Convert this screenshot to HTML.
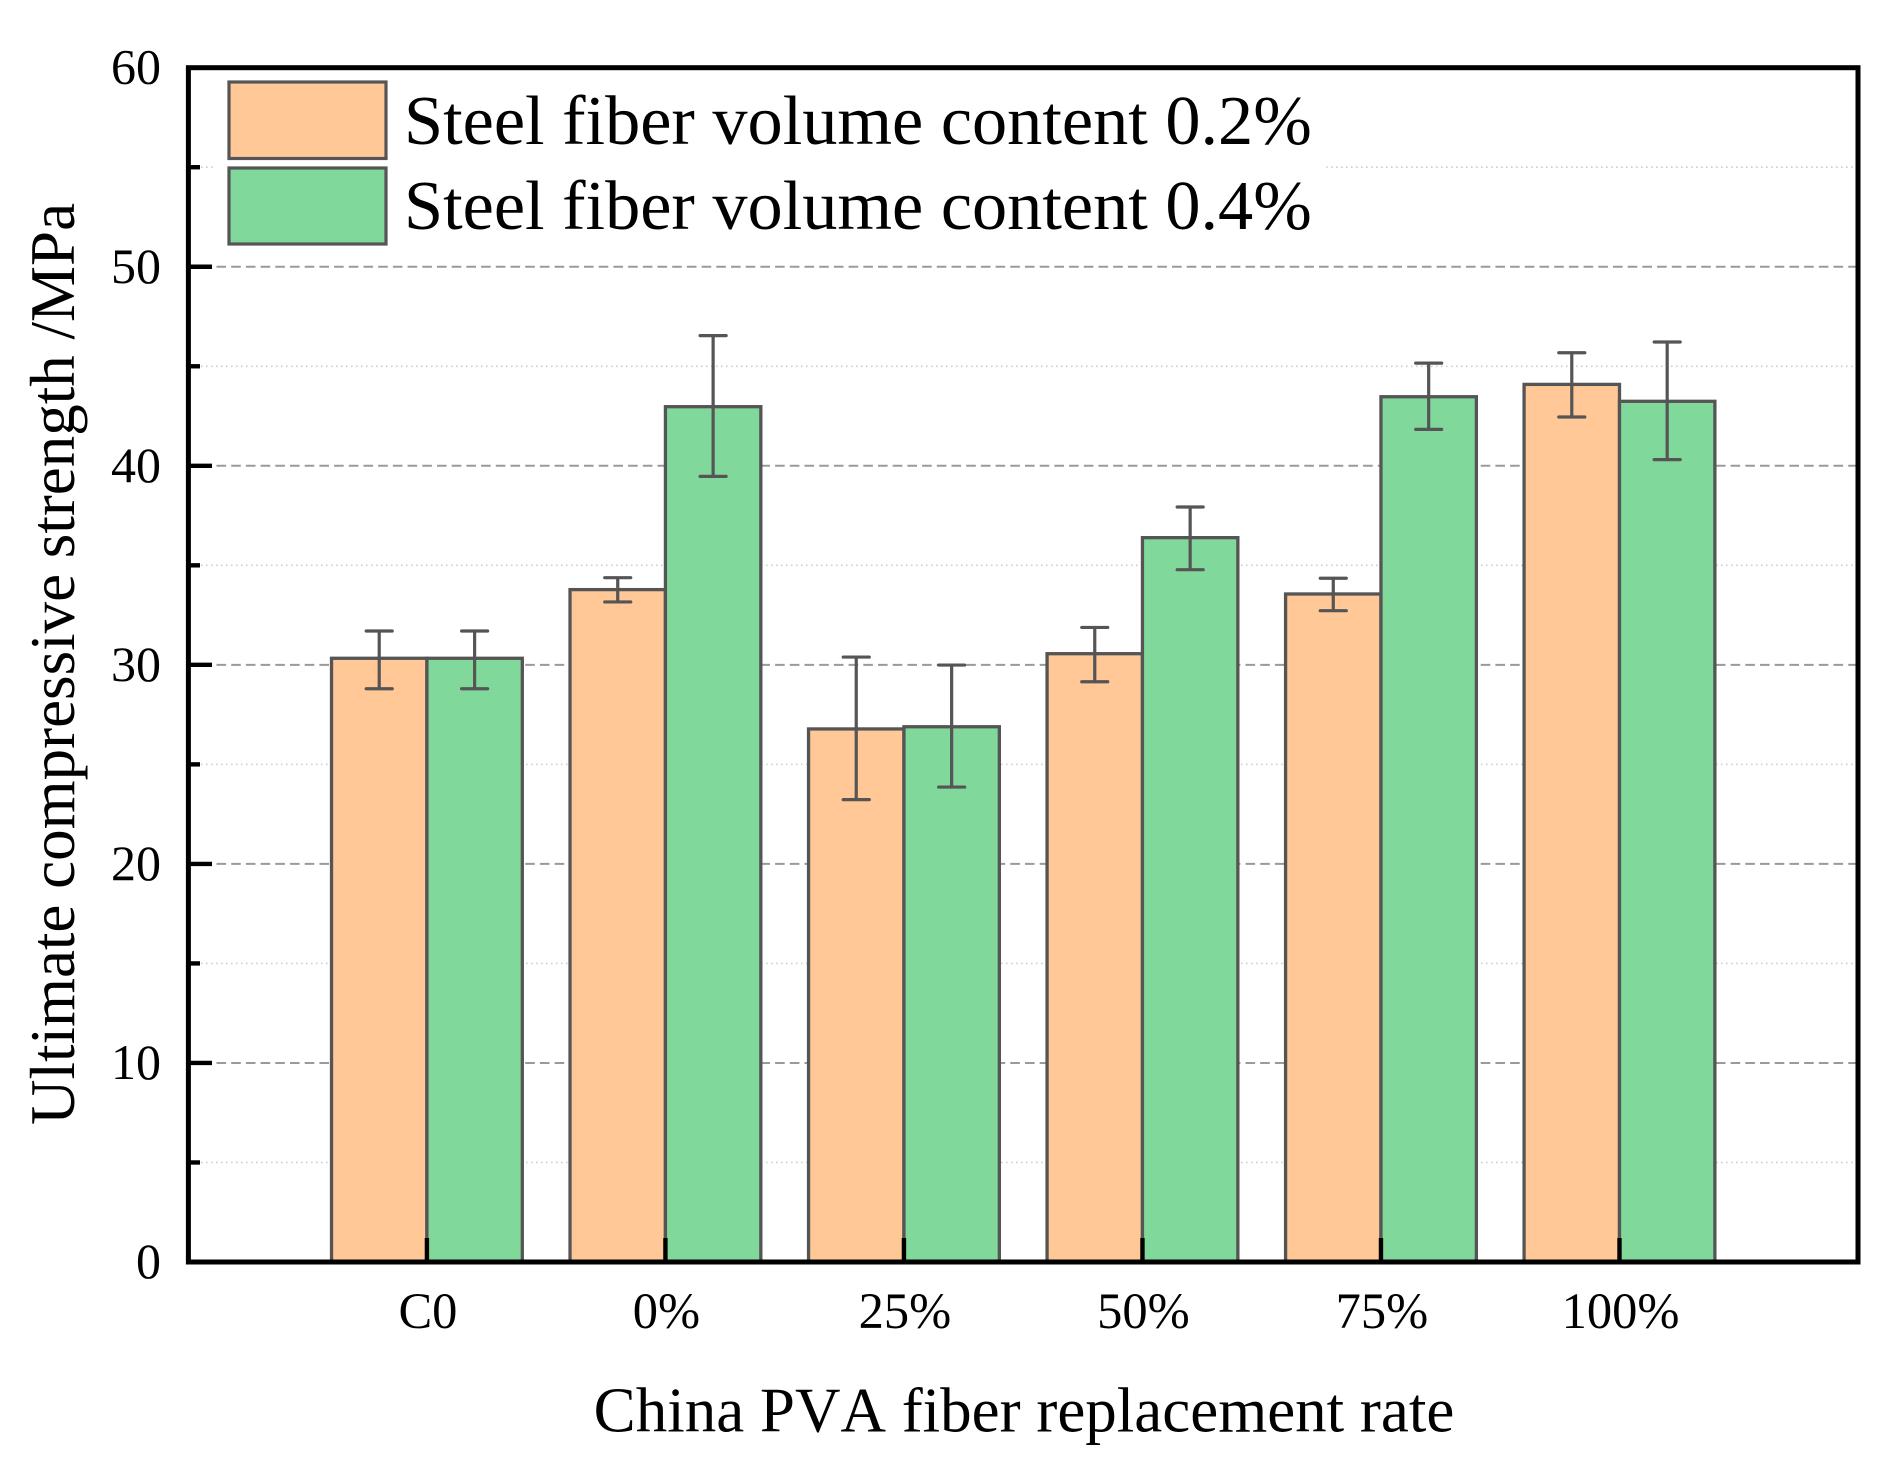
<!DOCTYPE html>
<html lang="en">
<head>
<meta charset="utf-8">
<title>Ultimate compressive strength chart</title>
<style>
html,body{margin:0;padding:0;background:#fff;}
svg{display:block;}
text{font-family:"Liberation Serif",serif;fill:#000;font-kerning:none;font-variant-ligatures:none;}
</style>
</head>
<body>
<svg id="chart" xmlns="http://www.w3.org/2000/svg" width="1888" height="1459" viewBox="0 0 1888 1459">
  <rect x="0" y="0" width="1888" height="1459" fill="#ffffff"/>
  <g id="grid"></g>
  <g id="bars"></g>
  <g id="errors"></g>
  <g id="ticks"></g>
  <rect x="188.4" y="67.7" width="1669.6" height="1194.3" fill="none" stroke="#000" stroke-width="5"/>
  <g id="labels"></g>
  <g>
    <rect x="214" y="72" width="1112" height="180" fill="#ffffff"/>
    <rect x="229" y="82" width="157" height="76.5" fill="#FFC896" stroke="#555" stroke-width="3.2"/>
    <text x="404" y="144" font-size="70.3">Steel fiber volume content 0.2%</text>
    <rect x="229" y="168" width="157" height="76" fill="#80D99B" stroke="#555" stroke-width="3.2"/>
    <text x="404" y="229" font-size="70.3">Steel fiber volume content 0.4%</text>
  </g>
  <text x="1024" y="1431.5" font-size="63" text-anchor="middle">China PVA fiber replacement rate</text>
  <text transform="translate(74,664) rotate(-90)" font-size="63" text-anchor="middle">Ultimate compressive strength /MPa</text>
</svg>
<script>
const categories = ['C0', '0%', '25%', '50%', '75%', '100%'];
const steel02Values = [30.33, 33.78, 26.78, 30.56, 33.56, 44.09];
const steel02ErrHigh = [31.7, 34.38, 30.39, 31.88, 34.35, 45.68];
const steel02ErrLow = [28.8, 33.16, 23.23, 29.15, 32.72, 42.45];
const steel04Values = [30.33, 42.97, 26.89, 36.39, 43.47, 43.24];
const steel04ErrHigh = [31.7, 46.54, 29.99, 37.93, 45.16, 46.22];
const steel04ErrLow = [28.8, 39.47, 23.86, 34.78, 41.83, 40.31];
const yTickLabels = [0, 10, 20, 30, 40, 50, 60];
const yMinorTicks = [5, 15, 25, 35, 45, 55];

const NS = 'http://www.w3.org/2000/svg';
const plot = { left: 188.4, right: 1858, top: 67.7, bottom: 1262 };
const yMax = 60;
const xUnits = categories.length + 1;
const barWidth = 95.4;

function xScale(i) {
  return plot.left + (plot.right - plot.left) * (i + 1) / xUnits;
}
function yScale(v) {
  return plot.bottom - (plot.bottom - plot.top) * v / yMax;
}
function make(tag, parentId, props) {
  const el = document.createElementNS(NS, tag);
  for (const k in props) el.setAttribute(k, props[k]);
  document.getElementById(parentId).appendChild(el);
  return el;
}

yTickLabels.forEach(function (v) {
  if (v === 0 || v === yMax) return;
  const g = make('line', 'grid', { x1: 216.5, x2: 1856, y1: yScale(v), y2: yScale(v), stroke: '#9a9a9a', 'stroke-width': 2, 'stroke-dasharray': '9.6 5.1' });
  
  
});
yMinorTicks.forEach(function (v) {
  const g = make('line', 'grid', { x1: 201, x2: 1856, y1: yScale(v), y2: yScale(v), stroke: '#cfcfcf', 'stroke-width': 1.6, 'stroke-dasharray': '1.6 3.4' });
  
  
  const t = make('line', 'ticks', { x1: plot.left, x2: 200, y1: yScale(v), y2: yScale(v), stroke: '#000', 'stroke-width': 4.4 });
  
  
});

function drawSeries(name, values, high, low, fill, dir) {
  values.forEach(function (v, i) {
    const cx = xScale(i);
    const x0 = dir < 0 ? cx - barWidth : cx;
    const bar = make('rect', 'bars', { x: x0, y: yScale(v), width: barWidth, height: plot.bottom - yScale(v), fill: fill, stroke: '#555', 'stroke-width': 3.3 });
    
    
    const ex = x0 + barWidth / 2;
    const stem = make('line', 'errors', { x1: ex, x2: ex, y1: yScale(high[i]), y2: yScale(low[i]), stroke: '#555', 'stroke-width': 3.2 });
    
    
    const capHigh = make('line', 'errors', { x1: ex - 13, x2: ex + 13, y1: yScale(high[i]), y2: yScale(high[i]), stroke: '#555', 'stroke-width': 3.2, 'stroke-linecap': 'round' });
    
    
    const capLow = make('line', 'errors', { x1: ex - 13, x2: ex + 13, y1: yScale(low[i]), y2: yScale(low[i]), stroke: '#555', 'stroke-width': 3.2, 'stroke-linecap': 'round' });
    
    
  });
}
drawSeries('steel-0-2', steel02Values, steel02ErrHigh, steel02ErrLow, '#FFC896', -1);
drawSeries('steel-0-4', steel04Values, steel04ErrHigh, steel04ErrLow, '#80D99B', 1);

yTickLabels.forEach(function (v) {
  const t = make('line', 'ticks', { x1: plot.left, x2: 212, y1: yScale(v), y2: yScale(v), stroke: '#000', 'stroke-width': 4.4 });
  
  
  const lab = make('text', 'labels', { x: 161, y: yScale(v) + 16, 'font-size': 50, 'text-anchor': 'end' });
  lab.textContent = String(v);
  
  
});
categories.forEach(function (c, i) {
  const t = make('line', 'ticks', { x1: xScale(i), x2: xScale(i), y1: 1238, y2: plot.bottom, stroke: '#000', 'stroke-width': 4.4 });
  
  
  const lab = make('text', 'labels', { x: xScale(i) + 1, y: 1328, 'font-size': 50.5, 'text-anchor': 'middle' });
  lab.textContent = c;
  
  
});
</script>
</body>
</html>
